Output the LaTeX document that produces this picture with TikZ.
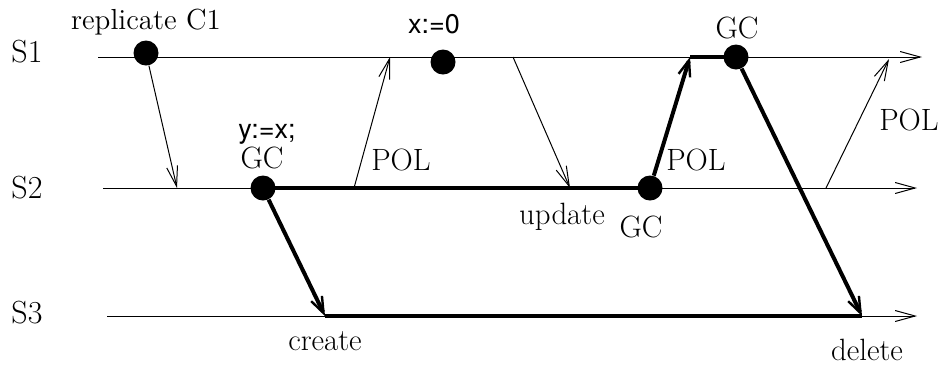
\documentclass[tikz,border=0pt]{standalone}
\usepackage{fontspec}
\newfontfamily\helv{TeX Gyre Heros}
\usepackage{tikz}
\usetikzlibrary{arrows.meta}

\begin{document}
\begin{tikzpicture}[
  x=0.5pt, y=-0.5pt,
  lbl/.style={font=\fontsize{15.4}{18}\selectfont, inner sep=0pt, anchor=base},
  sm/.style={font=\fontsize{14.5}{17}\selectfont, inner sep=0pt, anchor=base},
  site/.style={font=\fontsize{16}{19}\selectfont, inner sep=0pt, anchor=base},
  sf/.style={font=\helv\fontsize{13.5}{16}\selectfont, inner sep=0pt, anchor=base},
  ev/.style={circle, fill=black, minimum size=12.5pt, inner sep=0pt},
  tl/.style={line width=0.5pt, -{Straight Barb[length=10pt,width=5.5pt]}},
  hv/.style={line width=2pt, -{Straight Barb[length=8pt,width=6pt,line width=1.2pt]}},
  hl/.style={line width=2pt},
]
\useasboundingbox (0,0) rectangle (945,366);

% time lines of the three sites
\node[site] (s1) at (27,62)  {S1};
\node[site] (s2) at (27,198) {S2};
\node[site] (s3) at (27,323) {S3};
\coordinate (a1) at (98,57);   \coordinate (b1) at (922,57);
\coordinate (a2) at (103,188); \coordinate (b2) at (917,188);
\coordinate (a3) at (107,316); \coordinate (b3) at (917,316);
\foreach \a/\b in {a1/b1, a2/b2, a3/b3}
  \draw[tl] (\a) -- (\b);

% events
\node[ev] (rep) at (146,53) {};
\node[ev] (xz)  at (443,62) {};
\node[ev] (gca) at (263,188) {};
\node[ev] (gcb) at (650,188) {};
\node[ev] (gcc) at (736,57) {};

% message ends
\coordinate (r2) at (177,188);
\coordinate (p1s) at (354,188); \coordinate (p1e) at (390,57);
\coordinate (u1) at (513,57);   \coordinate (u2) at (570,188);
\coordinate (p2e) at (690,57);
\coordinate (p3s) at (826,188); \coordinate (p3e) at (889,59);
\coordinate (cr) at (325,316);  \coordinate (dl) at (862,316);

\draw[tl] (rep) -- (r2);
\draw[tl] (p1s) -- (p1e);
\draw[tl] (u1) -- (u2);
\draw[tl] (p3s) -- (p3e);

\draw[hl] (gca.center) -- (gcb.center);
\draw[hv] (gcb) -- (p2e);
\draw[hl] (p2e) -- (gcc.center);
\draw[hv] (gca) -- (cr);
\draw[hv] (gcc) -- (dl);
\draw[hl] (cr) -- (dl);

% labels
\node[sm]  (lrep) at (146,29)  {replicate C1};
\node[sf]  (lxz)  at (434,33)  {x:=0};
\node[sf]  (lyx)  at (267,138) {y:=x;};
\node[lbl] (lga)  at (262,168) {GC};
\node[lbl] (lp1)  at (401,170) {POL};
\node[lbl] (lup)  at (562,224) {update};
\node[lbl] (lgb)  at (641,237) {GC};
\node[lbl] (lp2)  at (696,170) {POL};
\node[lbl] (lgc)  at (737,38)  {GC};
\node[lbl] (lp3)  at (909,130) {POL};
\node[lbl] (lcr)  at (325,350) {create};
\node[lbl] (ldl)  at (867,360) {delete};
\end{tikzpicture}
\end{document}
